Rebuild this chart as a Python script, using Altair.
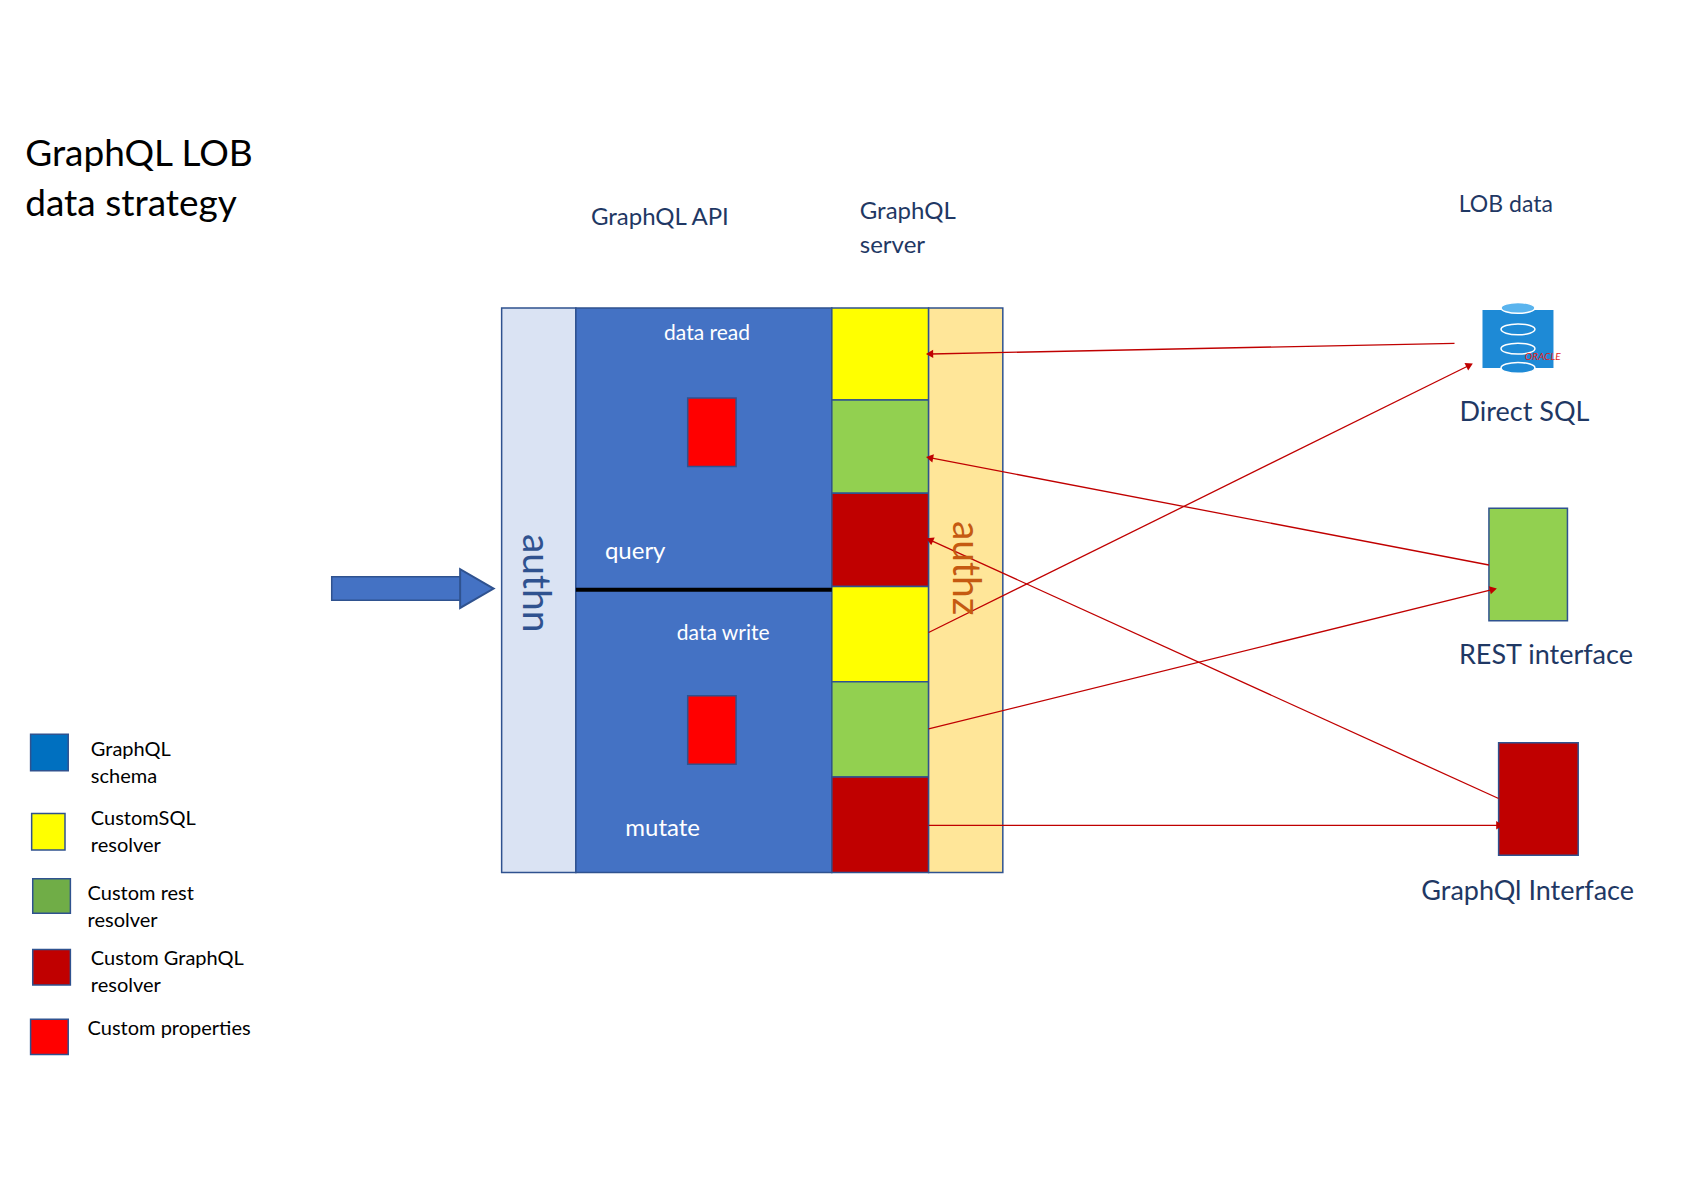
import math

import altair as alt
import pandas as pd

# boxes: x0, y0, x1, y1, fill
box_x0 = [459, 528, 632, 632, 766, 766, 766, 766, 766, 766, 856, 1377, 1386, 21, 22, 23, 23, 21, 301]
box_y0 = [280, 280, 364, 642, 280, 366, 453, 540, 629, 718, 280, 467, 686, 678, 752, 813, 879, 944, 531]
box_x1 = [528, 766, 677, 677, 856, 856, 856, 856, 856, 856, 925, 1450, 1460, 56, 53, 58, 58, 56, 430]
box_y1 = [807, 807, 428, 706, 366, 453, 540, 629, 718, 807, 807, 572, 791, 712, 786, 845, 912, 977, 553]
box_fill = ["#dae3f3", "#4472c4", "#ff0000", "#ff0000", "#ffff00", "#92d050", "#c00000",
            "#ffff00", "#92d050", "#c00000", "#ffe699", "#92d050", "#c00000",
            "#0070c0", "#ffff00", "#70ad47", "#c00000", "#ff0000", "#4472c4"]

# red connectors: start -> end (arrow at end)
link_x0 = [1345, 1377, 1386, 856, 856, 856]
link_y0 = [313, 520, 738, 583, 673, 763]
link_x1 = [858, 858, 858, 1358, 1380, 1386]
link_y1 = [323, 420, 497, 334, 543, 763]

txt = [
    ("GraphQL LOB", 16, 137, 34, "black", "left"),
    ("data strategy", 16, 184, 34, "black", "left"),
    ("GraphQL API", 542, 196, 22, "#1f3864", "left"),
    ("GraphQL", 792, 190, 22, "#1f3864", "left"),
    ("server", 792, 222, 22, "#1f3864", "left"),
    ("LOB data", 1349, 184, 21, "#1f3864", "left"),
    ("data read", 650, 304, 19, "white", "center"),
    ("query", 555, 508, 22, "white", "left"),
    ("data write", 665, 584, 19, "white", "center"),
    ("mutate", 574, 766, 22, "white", "left"),
    ("Direct SQL", 1410, 378, 25, "#1f3864", "center"),
    ("REST interface", 1430, 605, 25, "#1f3864", "center"),
    ("GraphQl Interface", 1413, 825, 25, "#1f3864", "center"),
    ("GraphQL", 77, 693, 18, "black", "left"),
    ("schema", 77, 718, 18, "black", "left"),
    ("CustomSQL", 77, 757, 18, "black", "left"),
    ("resolver", 77, 782, 18, "black", "left"),
    ("Custom rest", 74, 827, 18, "black", "left"),
    ("resolver", 74, 852, 18, "black", "left"),
    ("Custom GraphQL", 77, 888, 18, "black", "left"),
    ("resolver", 77, 913, 18, "black", "left"),
    ("Custom properties", 74, 953, 18, "black", "left"),
]
rot_txt = [("authn", 490, 537, "#2f528f"), ("authz", 890, 523, "#c55a11")]

K = 1683 / 1550  # the reference was read at 1550 px wide
X = alt.Scale(domain=[0, 1550])
Y = alt.Scale(domain=[0, 1096], reverse=True)
FONT = "Lato"
ELLIPSE = "M-1,0 A1,0.32 0 1,0 1,0 A1,0.32 0 1,0 -1,0 Z"

boxes = pd.DataFrame(dict(x0=box_x0, y0=box_y0, x1=box_x1, y1=box_y1, fill=box_fill))
box_layer = alt.Chart(boxes).mark_rect(stroke="#2f528f", strokeWidth=1.5).encode(
    x=alt.X("x0:Q", scale=X, axis=None), x2="x1", y=alt.Y("y0:Q", scale=Y, axis=None), y2="y1",
    color=alt.Color("fill:N", scale=None),
)

divider = alt.Chart(pd.DataFrame(dict(x0=[528], x1=[766], y=[543]))).mark_rule(
    color="black", strokeWidth=4
).encode(x=alt.X("x0:Q", scale=X), x2="x1", y=alt.Y("y:Q", scale=Y))

arrow_head = alt.Chart(pd.DataFrame(dict(x=[436], y=[542]))).mark_point(
    shape="triangle-right", filled=True, size=1500, color="#4472c4", stroke="#2f528f", opacity=1
).encode(x=alt.X("x:Q", scale=X), y=alt.Y("y:Q", scale=Y))

# database cylinder
db = pd.DataFrame(dict(x0=[1371], y0=[282], x1=[1437], y1=[336]))
db_body = alt.Chart(db).mark_rect(color="#1e8ad6").encode(
    x=alt.X("x0:Q", scale=X), x2="x1", y=alt.Y("y0:Q", scale=Y), y2="y1")
db_ell = pd.DataFrame(dict(x=[1404, 1404, 1404, 1404], y=[336, 318, 300, 280],
                           c=["#1e8ad6", "#1e8ad6", "#1e8ad6", "#5ab4ee"]))
db_ends = alt.Chart(db_ell).mark_point(
    shape=ELLIPSE, filled=True, size=1150, stroke="white", strokeWidth=1.5, opacity=1
).encode(x=alt.X("x:Q", scale=X), y=alt.Y("y:Q", scale=Y), color=alt.Color("c:N", scale=None))
db_label = alt.Chart(pd.DataFrame(dict(x=[1427], y=[326], t=["ORACLE"]))).mark_text(
    color="#e2231a", fontSize=10, fontStyle="italic", font=FONT
).encode(x=alt.X("x:Q", scale=X), y=alt.Y("y:Q", scale=Y), text="t:N")

links = pd.DataFrame(dict(x0=link_x0, y0=link_y0, x1=link_x1, y1=link_y1))
links["ang"] = [
    (math.degrees(math.atan2(x1 - x0, -(y1 - y0))) + 360) % 360
    for x0, y0, x1, y1 in zip(link_x0, link_y0, link_x1, link_y1)
]
link_layer = alt.Chart(links).mark_rule(color="#c00000", strokeWidth=1.3).encode(
    x=alt.X("x0:Q", scale=X), x2="x1", y=alt.Y("y0:Q", scale=Y), y2="y1")
head_layer = alt.Chart(links).mark_point(
    shape="triangle", filled=True, size=70, color="#c00000", opacity=1
).encode(x=alt.X("x1:Q", scale=X), y=alt.Y("y1:Q", scale=Y), angle=alt.Angle("ang:Q", scale=None))

text_layers = []
for t, x, y, s, c, a in txt:
    text_layers.append(
        alt.Chart(pd.DataFrame(dict(x=[x], y=[y], t=[t]))).mark_text(
            fontSize=round(s * K), color=c, align=a, baseline="middle", font=FONT
        ).encode(x=alt.X("x:Q", scale=X), y=alt.Y("y:Q", scale=Y), text="t:N")
    )
for t, x, y, c in rot_txt:
    text_layers.append(
        alt.Chart(pd.DataFrame(dict(x=[x], y=[y], t=[t]))).mark_text(
            fontSize=round(36 * K), color=c, angle=90, baseline="middle", align="center", font=FONT
        ).encode(x=alt.X("x:Q", scale=X), y=alt.Y("y:Q", scale=Y), text="t:N")
    )

chart = alt.layer(
    box_layer, divider, arrow_head, db_body, db_ends, db_label,
    link_layer, head_layer, *text_layers,
).properties(
    width=1667, height=1174, autosize=alt.AutoSizeParams(type="fit", contains="padding"), padding=0
).configure_view(stroke=None)

chart.save("out.html", embed_options={"renderer": "svg", "actions": False})
